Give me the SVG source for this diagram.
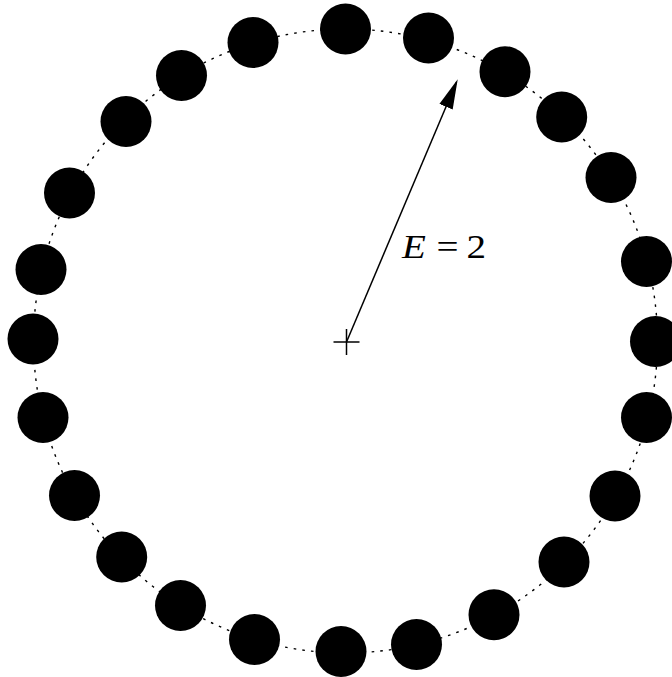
<svg xmlns="http://www.w3.org/2000/svg" width="672" height="677" viewBox="0 0 672 677">
<style>
.dot{fill:#000;}
.ring{fill:none;stroke:#000;stroke-width:1.4;stroke-dasharray:2.6 6.1;}
.ln{fill:none;stroke:#000;stroke-width:1.5;}
.lbl{font-family:"Liberation Serif","DejaVu Serif",serif;font-size:34px;fill:#000;}
</style>
<defs>
<marker id="ah" markerUnits="userSpaceOnUse" markerWidth="30" markerHeight="16" viewBox="0 0 29 14" refX="26" refY="7" orient="auto">
<path d="M0,0 L29,7 L0,14 z" fill="#000"/>
</marker>
</defs>
<g id="connectors">
<circle class="ring" cx="345.5" cy="341" r="312"/>
<line class="ln" x1="346.5" y1="342" x2="456.5" y2="82" marker-end="url(#ah)"/>
</g>
<g id="center">
<line class="ln" x1="333.5" y1="342" x2="359.5" y2="342"/>
<line class="ln" x1="346.5" y1="329" x2="346.5" y2="355"/>
</g>
<g id="label">
<text class="lbl" transform="translate(402,257.5) scale(1.15,1)"><tspan x="0" font-style="italic">E</tspan><tspan x="30">=</tspan><tspan x="56">2</tspan></text>
</g>
<g id="n1"><circle class="dot" cx="345.5" cy="29" r="25.5"/></g>
<g id="n2"><circle class="dot" cx="428.5" cy="38" r="25.5"/></g>
<g id="n3"><circle class="dot" cx="505" cy="71.7" r="25.5"/></g>
<g id="n4"><circle class="dot" cx="561.7" cy="117" r="25.5"/></g>
<g id="n5"><circle class="dot" cx="611" cy="177.5" r="25.5"/></g>
<g id="n6"><circle class="dot" cx="646.5" cy="261.5" r="25.5"/></g>
<g id="n7"><circle class="dot" cx="655.5" cy="341.5" r="25.5"/></g>
<g id="n8"><circle class="dot" cx="646.5" cy="417.5" r="25.5"/></g>
<g id="n9"><circle class="dot" cx="615" cy="496" r="25.5"/></g>
<g id="n10"><circle class="dot" cx="564" cy="562" r="25.5"/></g>
<g id="n11"><circle class="dot" cx="494" cy="614.7" r="25.5"/></g>
<g id="n12"><circle class="dot" cx="416.5" cy="644.5" r="25.5"/></g>
<g id="n13"><circle class="dot" cx="341" cy="651.5" r="25.5"/></g>
<g id="n14"><circle class="dot" cx="254.5" cy="639.5" r="25.5"/></g>
<g id="n15"><circle class="dot" cx="180.5" cy="605.5" r="25.5"/></g>
<g id="n16"><circle class="dot" cx="121.7" cy="557" r="25.5"/></g>
<g id="n17"><circle class="dot" cx="74.5" cy="495.5" r="25.5"/></g>
<g id="n18"><circle class="dot" cx="43" cy="417.5" r="25.5"/></g>
<g id="n19"><circle class="dot" cx="33" cy="339" r="25.5"/></g>
<g id="n20"><circle class="dot" cx="41" cy="269.5" r="25.5"/></g>
<g id="n21"><circle class="dot" cx="69.5" cy="193" r="25.5"/></g>
<g id="n22"><circle class="dot" cx="126" cy="121.5" r="25.5"/></g>
<g id="n23"><circle class="dot" cx="181.5" cy="75.5" r="25.5"/></g>
<g id="n24"><circle class="dot" cx="253" cy="42.5" r="25.5"/></g>
</svg>
